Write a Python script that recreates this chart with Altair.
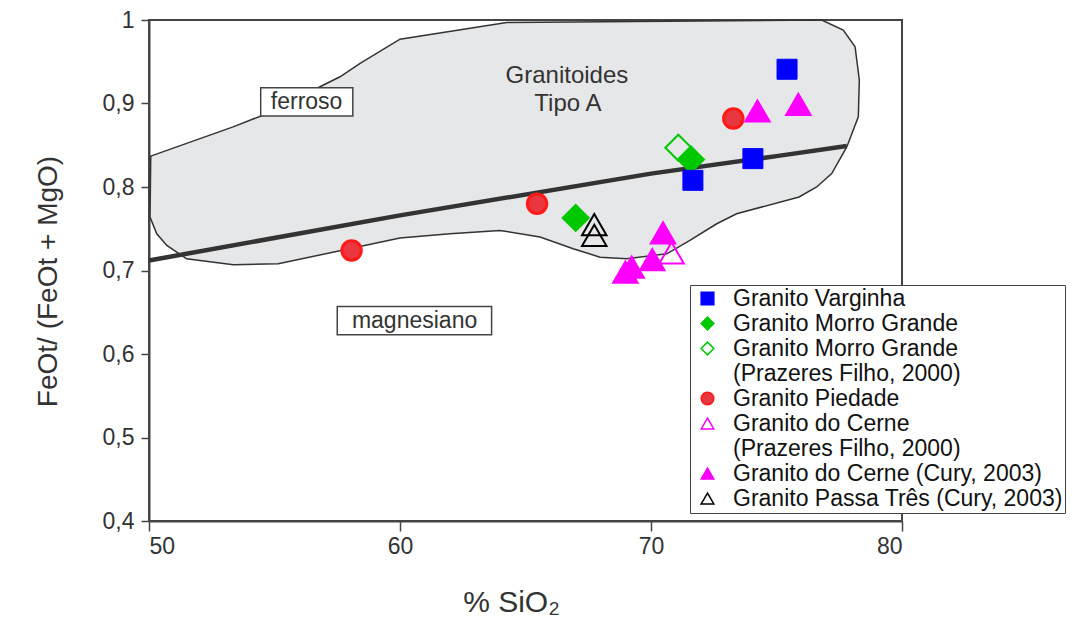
import altair as alt
import pandas as pd

FONT = "Liberation Sans"

# ---------------- data ----------------
varginha_x = [75.42, 74.06, 71.67]
varginha_y = [0.941, 0.834, 0.808]
morro_x = [67.00, 71.59]
morro_y = [0.763, 0.833]
morro_pf_x = [71.09]
morro_pf_y = [0.847]
piedade_x = [58.07, 65.46, 73.28]
piedade_y = [0.724, 0.780, 0.882]
cerne_pf_x = [70.82]
cerne_pf_y = [0.721]
cerne_cury_x = [74.24, 75.87, 70.48, 70.05, 69.23, 68.98]
cerne_cury_y = [0.891, 0.899, 0.745, 0.713, 0.704, 0.698]
passa_x = [67.74, 67.74]
passa_y = [0.755, 0.742]

# A-type granitoid field outline
region_x = [50.07, 53.35, 54.54, 57.61, 58.41, 60.00, 64.25, 76.80, 77.66, 78.13,
            78.30, 78.26, 77.80, 77.20, 76.60, 75.90, 73.41, 72.62, 71.55, 70.63,
            69.03, 67.97, 66.90, 65.58, 63.98, 61.99, 60.00, 55.15, 53.36, 51.50,
            50.71, 50.31, 50.04]
region_y = [0.837, 0.872, 0.886, 0.932, 0.948, 0.977, 0.997, 1.000, 0.988, 0.968,
            0.928, 0.884, 0.848, 0.816, 0.800, 0.788, 0.768, 0.756, 0.736, 0.720,
            0.714, 0.716, 0.726, 0.740, 0.748, 0.744, 0.739, 0.708, 0.707, 0.714,
            0.730, 0.744, 0.764]

# ferroan / magnesian boundary
boundary_x = [50.0, 60.0, 70.0, 75.0, 77.8]
boundary_y = [0.712, 0.766, 0.816, 0.837, 0.849]

# annotations
box_label = ["ferroso", "magnesiano"]
box_x = [54.45, 57.50]
box_x2 = [58.12, 63.65]
box_y = [0.919, 0.657]
box_y2 = [0.885, 0.623]
box_tx = [56.28, 60.58]
box_ty = [0.902, 0.640]
field_label = ["Granitoides", "Tipo A"]
field_tx = [66.65, 66.69]
field_ty = [0.933, 0.900]

# legend entries (one per legend line)
series = [
    "Granito Varginha",
    "Granito Morro Grande",
    "Granito Morro Grande ",
    "(Prazeres Filho, 2000)",
    "Granito Piedade",
    "Granito do Cerne",
    "(Prazeres Filho, 2000) ",
    "Granito do Cerne (Cury, 2003)",
    "Granito Passa Três (Cury, 2003)",
]
shapes = ["square", "diamond", "diamond", "circle", "circle",
          "triangle-up", "circle", "triangle-up", "triangle-up"]
fills = ["#0000ff", "#00c800", "transparent", "transparent", "#e8373e",
         "transparent", "transparent", "#ff00ff", "transparent"]
strokes = ["#0000ff", "#00c800", "#00c800", "transparent", "#ff1a1a",
           "#ff00ff", "transparent", "#ff00ff", "#000000"]

# ---------------- tables ----------------
def pts(xs, ys, name, kind):
    return [{"x": a, "y": b, "serie": name, "kind": kind} for a, b in zip(xs, ys)]

rows = []
rows += pts(varginha_x, varginha_y, series[0], "square")
rows += pts(morro_pf_x, morro_pf_y, series[2], "diamond")
rows += pts(morro_x, morro_y, series[1], "diamond")
rows += pts(piedade_x, piedade_y, series[4], "circle")
rows += pts(cerne_pf_x, cerne_pf_y, series[5], "triangle")
rows += pts(cerne_cury_x, cerne_cury_y, series[7], "triangle")
rows += pts(passa_x, passa_y, series[8], "triangle")
points = pd.DataFrame(rows)

region = pd.DataFrame({"x": region_x, "y": region_y, "i": range(len(region_x))})
boundary = pd.DataFrame({"x": boundary_x, "y": boundary_y, "i": range(len(boundary_x))})
boxes = pd.DataFrame({"label": box_label, "x": box_x, "x2": box_x2, "y": box_y,
                      "y2": box_y2, "tx": box_tx, "ty": box_ty})
field = pd.DataFrame({"label": field_label, "tx": field_tx, "ty": field_ty})

# ---------------- scales / axes ----------------
xscale = alt.Scale(domain=[50, 80], nice=False, zero=False)
yscale = alt.Scale(domain=[0.4, 1.0], nice=False, zero=False)

xaxis = alt.Axis(values=[50, 60, 70, 80], title="% SiO\u2082", grid=False,
                 tickSize=10, labelFontSize=23, labelPadding=4,
                 titleFontSize=30, titleX=362, titleY=90,
                 titleBaseline="alphabetic")
yaxis = alt.Axis(values=[0.4, 0.5, 0.6, 0.7, 0.8, 0.9, 1.0],
                 labelExpr="datum.value == 1 ? '1' : replace(format(datum.value, '.1f'), '.', ',')",
                 title="FeOt/ (FeOt + MgO)", grid=False, tickSize=8,
                 labelFontSize=23, labelPadding=7, titleFontSize=28,
                 titleAngle=270, titleX=-101, titleY=261,
                 titleBaseline="middle", titleAlign="center")

X = alt.X("x:Q", scale=xscale, axis=xaxis)
Y = alt.Y("y:Q", scale=yscale, axis=yaxis)

legend = alt.Legend(title=None, orient="none", legendX=541, legendY=265,
                    fillColor="white", strokeColor="#444444", padding=2,
                    symbolSize=160, symbolStrokeWidth=1.5, symbolOffset=4,
                    labelFontSize=23, labelFont=FONT, labelColor="#111111",
                    labelOffset=14, labelLimit=500, rowPadding=1)

shape_enc = alt.Shape("serie:N", scale=alt.Scale(domain=series, range=shapes), legend=legend)
fill_enc = alt.Fill("serie:N", scale=alt.Scale(domain=series, range=fills), legend=legend)
stroke_enc = alt.Stroke("serie:N", scale=alt.Scale(domain=series, range=strokes), legend=legend)

base_pts = alt.Chart(points).encode(x=X, y=Y, shape=shape_enc, fill=fill_enc, stroke=stroke_enc)

region_layer = alt.Chart(region).mark_line(
    fill="#e6e7e8", stroke="#333333", strokeWidth=1.5, interpolate="linear-closed"
).encode(x=X, y=Y, order="i:Q")

boundary_layer = alt.Chart(boundary).mark_line(
    color="#333333", strokeWidth=4.5
).encode(x=X, y=Y, order="i:Q")

box_layer = alt.Chart(boxes).mark_rect(
    fill="white", stroke="#444444", strokeWidth=1.5
).encode(x=alt.X("x:Q", scale=xscale, axis=xaxis), x2="x2:Q",
         y=alt.Y("y:Q", scale=yscale, axis=yaxis), y2="y2:Q")

box_text = alt.Chart(boxes).mark_text(
    font=FONT, fontSize=23, color="#333333", baseline="middle"
).encode(x=alt.X("tx:Q", scale=xscale, axis=xaxis),
         y=alt.Y("ty:Q", scale=yscale, axis=yaxis), text="label:N")

field_text = alt.Chart(field).mark_text(
    font=FONT, fontSize=24, color="#333333", baseline="middle"
).encode(x=alt.X("tx:Q", scale=xscale, axis=xaxis),
         y=alt.Y("ty:Q", scale=yscale, axis=yaxis), text="label:N")

sq = base_pts.transform_filter("datum.kind == 'square'").mark_point(size=400, opacity=1, strokeWidth=1)
di = base_pts.transform_filter("datum.kind == 'diamond'").mark_point(size=680, opacity=1, strokeWidth=2)
ci = base_pts.transform_filter("datum.kind == 'circle'").mark_point(size=380, opacity=1, strokeWidth=3)
tr = base_pts.transform_filter("datum.kind == 'triangle'").mark_point(size=600, opacity=1, strokeWidth=2)

chart = alt.layer(
    region_layer, boundary_layer, box_layer, box_text, field_text, di, ci, tr, sq
).properties(
    width=753, height=501,
    padding={"left": 149, "top": 20, "right": 170, "bottom": 99},
    autosize=alt.AutoSizeParams(type="none"),
).configure(
    font=FONT,
).configure_view(
    stroke="#444444", strokeWidth=2,
).configure_axis(
    domainColor="#444444", domainWidth=2, tickColor="#444444", tickWidth=1.5,
    labelColor="#333333", titleColor="#333333", labelFont=FONT, titleFont=FONT,
    titleFontWeight="normal",
)

chart.save("out.html", embed_options={"renderer": "svg", "actions": False})
